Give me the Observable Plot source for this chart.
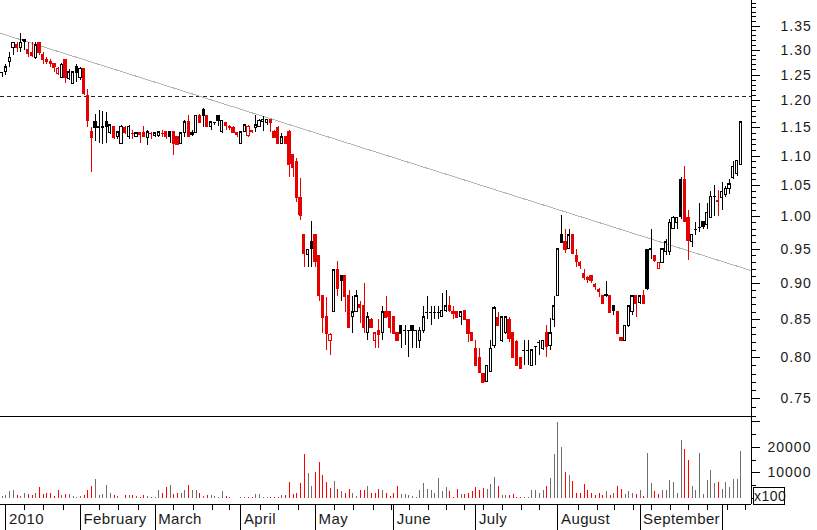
<!DOCTYPE html>
<html>
<head>
<meta charset="utf-8">
<script src="https://cdn.jsdelivr.net/npm/d3@7"></script>
<script src="https://cdn.jsdelivr.net/npm/@observablehq/plot@0.6"></script>
<style>
html, body { margin: 0; padding: 0; background: #fff; }
#chart { position: relative; width: 817px; height: 530px; overflow: hidden; background: #fff; font-family: "Liberation Sans", Arial, sans-serif; }
#chart svg { position: absolute; left: 0; background: transparent !important; shape-rendering: crispEdges; }
#chart svg text { letter-spacing: 1px; fill: #1a1a1a; }
#chart svg g[aria-label="text"].months text { letter-spacing: 0.4px; }
#x100 { position: absolute; left: 753px; top: 487px; width: 30px; height: 16px; border: 1px solid #000; font-size: 14px; line-height: 16px; text-align: center; letter-spacing: 0.5px; color: #1a1a1a; background: #fff; }
</style>
</head>
<body>
<div id="chart"><div id="x100">x100</div></div>
<script>
// ---- Daily OHLC (price), one entry per trading day ----
const opens = [
  1.255,1.255,1.275,1.305,1.31,1.305,1.32,1.30,1.295,1.285,
  1.315,1.29,1.28,1.275,1.272,1.252,1.245,1.28,1.243,1.233,
  1.265,1.245,1.262,1.21,1.142,1.16,1.15,1.15,1.16,1.14,
  1.152,1.133,1.122,1.15,1.133,1.14,1.133,1.14,1.14,1.132,
  1.14,1.135,1.135,1.14,1.142,1.142,1.142,1.133,1.122,1.14,
  1.16,1.138,1.14,1.172,1.183,1.172,1.152,1.16,1.172,1.142,
  1.158,1.152,1.15,1.14,1.122,1.142,1.135,1.145,1.15,1.152,
  1.16,1.158,1.165,1.143,1.15,1.122,1.133,1.142,1.101,1.09,
  1.03,0.971,0.941,0.96,0.971,0.94,0.882,0.853,0.822,0.86,
  0.919,0.911,0.911,0.882,0.853,0.86,0.87,0.868,0.832,0.85,
  0.822,0.835,0.832,0.86,0.86,0.853,0.832,0.842,0.835,0.835,
  0.842,0.835,0.822,0.835,0.86,0.86,0.86,0.86,0.853,0.862,
  0.868,0.86,0.86,0.853,0.862,0.85,0.832,0.812,0.8,0.78,
  0.77,0.782,0.815,0.852,0.822,0.832,0.85,0.832,0.82,0.80,
  0.81,0.81,0.79,0.815,0.82,0.812,0.832,0.815,0.85,0.882,
  0.971,0.96,0.95,0.971,0.94,0.93,0.913,0.907,0.911,0.897,
  0.89,0.882,0.882,0.882,0.868,0.86,0.825,0.822,0.842,0.86,
  0.882,0.872,0.882,0.948,0.948,0.94,0.92,0.93,0.945,0.945,
  0.98,0.99,1.06,1.06,0.998,0.96,0.98,0.983,0.992,0.986,
  0.998,1.032,1.025,1.03,1.034,1.045,1.063,1.07,1.084
];
const highs = [
  1.255,1.27,1.295,1.315,1.315,1.335,1.322,1.315,1.315,1.315,
  1.315,1.295,1.285,1.28,1.273,1.265,1.272,1.28,1.26,1.255,
  1.27,1.265,1.262,1.222,1.151,1.175,1.182,1.18,1.178,1.155,
  1.153,1.142,1.155,1.152,1.155,1.145,1.14,1.142,1.152,1.145,
  1.142,1.142,1.142,1.145,1.142,1.142,1.142,1.133,1.142,1.163,
  1.172,1.145,1.172,1.175,1.185,1.172,1.16,1.16,1.172,1.163,
  1.158,1.155,1.152,1.14,1.142,1.155,1.155,1.145,1.172,1.165,
  1.17,1.165,1.165,1.145,1.152,1.14,1.133,1.145,1.101,1.095,
  1.062,0.971,0.95,0.992,0.971,0.94,0.882,0.88,0.832,0.919,
  0.932,0.911,0.911,0.89,0.882,0.89,0.875,0.9,0.86,0.852,
  0.832,0.85,0.868,0.882,0.86,0.853,0.832,0.842,0.842,0.835,
  0.842,0.835,0.84,0.868,0.882,0.868,0.868,0.868,0.885,0.89,
  0.882,0.868,0.86,0.86,0.862,0.85,0.832,0.822,0.812,0.78,
  0.79,0.822,0.868,0.86,0.853,0.853,0.853,0.832,0.822,0.80,
  0.822,0.822,0.81,0.815,0.822,0.822,0.842,0.852,0.882,0.95,
  1.002,0.98,0.98,0.971,0.95,0.932,0.92,0.91,0.911,0.9,
  0.892,0.882,0.902,0.882,0.868,0.86,0.825,0.842,0.868,0.882,
  0.882,0.882,0.89,0.95,0.98,0.94,0.93,0.95,0.965,0.995,
  1.0,0.998,1.063,1.082,1.01,0.972,0.99,1.02,0.992,1.02,
  1.04,1.05,1.042,1.055,1.048,1.06,1.09,1.092,1.16
];
const lows = [
  1.245,1.25,1.265,1.29,1.295,1.295,1.30,1.285,1.285,1.28,
  1.29,1.27,1.27,1.265,1.255,1.25,1.245,1.233,1.24,1.233,
  1.235,1.24,1.21,1.15,1.072,1.125,1.122,1.12,1.122,1.138,
  1.13,1.13,1.12,1.138,1.13,1.13,1.132,1.122,1.132,1.118,
  1.13,1.133,1.133,1.133,1.13,1.122,1.101,1.118,1.12,1.133,
  1.135,1.135,1.14,1.16,1.15,1.15,1.145,1.155,1.152,1.14,
  1.145,1.145,1.14,1.133,1.122,1.142,1.133,1.14,1.142,1.15,
  1.143,1.155,1.142,1.133,1.122,1.122,1.12,1.063,1.063,1.022,
  0.994,0.923,0.923,0.923,0.923,0.874,0.832,0.81,0.803,0.86,
  0.882,0.874,0.86,0.84,0.832,0.86,0.845,0.832,0.822,0.84,
  0.812,0.812,0.822,0.853,0.832,0.832,0.822,0.812,0.816,0.8,
  0.812,0.812,0.812,0.832,0.85,0.842,0.85,0.85,0.853,0.86,
  0.86,0.85,0.853,0.842,0.85,0.82,0.822,0.79,0.782,0.77,
  0.77,0.782,0.812,0.842,0.82,0.83,0.82,0.80,0.79,0.787,
  0.79,0.79,0.79,0.79,0.803,0.81,0.80,0.81,0.84,0.882,
  0.96,0.944,0.95,0.944,0.923,0.92,0.904,0.9,0.9,0.89,
  0.88,0.87,0.88,0.86,0.855,0.832,0.822,0.822,0.84,0.855,
  0.853,0.87,0.872,0.89,0.935,0.93,0.92,0.93,0.94,0.94,
  0.98,0.98,0.995,0.992,0.933,0.952,0.97,0.975,0.98,0.98,
  0.998,1.0,1.0,1.01,1.03,1.035,1.06,1.065,1.084
];
const closes = [
  1.255,1.265,1.285,1.315,1.305,1.315,1.318,1.293,1.29,1.31,
  1.295,1.28,1.277,1.272,1.265,1.262,1.27,1.245,1.255,1.255,
  1.255,1.262,1.215,1.163,1.133,1.151,1.152,1.152,1.152,1.155,
  1.133,1.142,1.152,1.142,1.152,1.14,1.14,1.138,1.134,1.142,
  1.14,1.14,1.142,1.14,1.135,1.135,1.122,1.12,1.14,1.16,
  1.135,1.14,1.172,1.16,1.172,1.152,1.16,1.16,1.163,1.163,
  1.155,1.15,1.142,1.138,1.142,1.155,1.152,1.143,1.155,1.163,
  1.165,1.165,1.16,1.133,1.122,1.133,1.122,1.086,1.08,1.03,
  1.002,0.944,0.949,0.951,0.931,0.883,0.853,0.832,0.83,0.919,
  0.892,0.904,0.882,0.84,0.86,0.882,0.866,0.84,0.853,0.84,
  0.832,0.83,0.86,0.853,0.84,0.832,0.822,0.832,0.835,0.835,
  0.835,0.835,0.835,0.853,0.86,0.86,0.86,0.86,0.862,0.868,
  0.862,0.858,0.853,0.86,0.85,0.832,0.822,0.79,0.782,0.77,
  0.79,0.812,0.865,0.842,0.853,0.853,0.825,0.80,0.79,0.787,
  0.81,0.81,0.81,0.815,0.82,0.822,0.815,0.832,0.868,0.95,
  0.96,0.95,0.971,0.944,0.931,0.925,0.908,0.906,0.904,0.895,
  0.888,0.872,0.884,0.86,0.862,0.832,0.822,0.842,0.868,0.882,
  0.872,0.882,0.872,0.893,0.95,0.933,0.93,0.95,0.96,0.99,
  0.998,0.998,1.0,0.992,0.963,0.972,0.98,0.983,0.984,1.006,
  1.032,1.032,1.024,1.04,1.045,1.052,1.082,1.092,1.16
];
// ---- Daily volume (units of 100 shares) ----
const volumes = [
  700,1300,2700,3100,1300,700,2000,1600,1300,2000,
  4300,1600,2000,2000,700,3100,1300,1600,1600,700,
  400,700,1300,3100,4700,7600,1300,1600,5100,2000,
  1100,700,0,1100,1100,1100,900,400,1100,700,
  400,400,3100,2000,4300,5100,1600,2000,2000,3300,
  5100,3100,3100,2000,900,1100,1100,900,400,2700,
  900,400,0,0,400,400,400,400,1600,1600,
  400,400,400,400,400,1100,1100,6300,1600,2000,
  6000,17000,9600,4700,10000,14000,9100,6400,4000,6700,
  3600,2700,2000,3500,2000,700,3100,3100,4700,2000,
  2000,3500,3100,2000,700,2000,4700,1600,1600,1300,
  700,400,3100,6000,3700,3100,2000,8000,2900,4300,
  2700,400,3600,1600,1600,2000,2700,4300,3100,4000,
  3600,5600,8300,4700,1300,1300,1300,1600,400,400,
  400,400,3300,3300,2000,3300,4700,8000,17000,29600,
  20000,10000,9100,6700,2000,2000,5600,3300,2000,1300,
  2000,1300,2900,1300,2000,4700,3600,1600,2700,2000,
  1600,3100,700,17600,6000,2700,1600,3100,3100,7100,
  6400,2000,22700,19100,14700,4700,3100,17600,1600,7100,
  11100,6000,6400,3600,6300,4300,7600,7300,18400
];

// ---- Axis / annotation values ----
const priceTicks = [0.75,0.80,0.85,0.90,0.95,1.00,1.05,1.10,1.15,1.20,1.25,1.30,1.35];
const minorPriceTicks = d3.range(73, 141).map(d => d / 100);
const volumeTicks = [10000, 20000, 30000];
const volumeLabels = [10000, 20000];
const minorVolumeTicks = [0, 5000, 15000, 25000];
const monthLabels = ["2010","February","March","April","May","June","July","August","September"];
const monthStarts = [1, 21, 41, 64, 84, 105, 127, 149, 171, 193]; // trading-day index of each month's first session
const weekStarts = [6,11.2,16.4,26.2,31.3,36.5,46,51.2,56.3,61,69.3,74.2,79.4,89.2,94.3,99.5,104.4,109.3,114.4,119,124,129,134,139.1,144.1,154.6,159.5,164.2,169.3,174,179.2,184.1,189.2,194.4,199.3];
const resistanceLevel = 1.208;
const trendDays = [-0.46, 200.88];
const trendPrices = [1.335, 0.918];

// ---- Build tables ----
const candles = opens.map((open, i) => ({
  day: i, open, high: highs[i], low: lows[i], close: closes[i], volume: volumes[i],
  down: i > 0 && closes[i] < closes[i - 1],
  hollow: closes[i] >= open
}));
const trendline = trendDays.map((day, i) => ({day, price: trendPrices[i]}));

const RED = "#e60000", VRED = "#ff0000", VGRAY = "#6e6e6e", INK = "#000";
const xDomain = [-0.456, 200.88];
const col = d => d.down ? RED : INK;
const font = {fontFamily: "'Liberation Sans', Arial, sans-serif", fontSize: "14px", background: "transparent", overflow: "visible"};

const price = Plot.plot({
  width: 817, height: 417,
  marginTop: 0, marginBottom: 0, marginLeft: 0, marginRight: 66,
  x: {domain: xDomain, axis: null, label: null},
  y: {type: "log", domain: [0.72833, 1.4059], label: null},
  style: font,
  marks: [
    Plot.ruleY([resistanceLevel], {stroke: "#222", strokeDasharray: "4,3"}),
    Plot.line(trendline, {x: "day", y: "price", stroke: "#b4b4b4", strokeWidth: 1}),
    Plot.ruleX(candles, {x: "day", y1: "low", y2: "high", stroke: col}),
    Plot.rect(candles, {
      x1: d => d.day - 0.3, x2: d => d.day + 0.3, y1: "open", y2: "close",
      fill: d => d.hollow ? "#ffffff" : col(d), stroke: col, strokeWidth: 1
    }),
    Plot.ruleY(candles, {y: "close", x1: d => d.day - 0.42, x2: d => d.day + 0.42, stroke: col}),
    Plot.ruleX([xDomain[1]], {stroke: INK}),
    Plot.axisY(minorPriceTicks, {anchor: "right", tickSize: 4, tickFormat: () => "", label: null}),
    Plot.axisY(priceTicks, {anchor: "right", tickSize: 8, tickFormat: () => "", label: null}),
    Plot.text(priceTicks, {
      y: d => d, text: d => d.toFixed(2), frameAnchor: "right",
      dx: 29, textAnchor: "start", fontSize: 14
    })
  ]
});
price.style.top = "0px";

const volume = Plot.plot({
  width: 817, height: 114,
  marginTop: 0, marginBottom: 26, marginLeft: 0, marginRight: 66,
  x: {domain: xDomain, label: null},
  y: {domain: [-2344, 32031], label: null},
  style: font,
  marks: [
    Plot.ruleX(candles, {x: "day", y1: 0, y2: "volume", stroke: d => d.down ? VRED : VGRAY}),
    Plot.ruleY([32031], {stroke: INK}),
    Plot.ruleY([-2344], {stroke: INK}),
    Plot.ruleX([xDomain[1]], {stroke: INK}),
    Plot.axisY(minorVolumeTicks, {anchor: "right", tickSize: 4, tickFormat: () => "", label: null}),
    Plot.axisY(volumeTicks, {anchor: "right", tickSize: 8, tickPadding: 8, tickFormat: d => volumeLabels.includes(d) ? String(d) : "", fontSize: 14, label: null}),
    Plot.axisX(weekStarts, {tickSize: 6, tickFormat: () => "", label: null}),
    Plot.axisX(monthStarts, {tickSize: 26, tickFormat: () => "", label: null}),
    Plot.text(monthStarts.slice(0, monthLabels.length), {
      x: d => d, text: (d, i) => monthLabels[i],
      frameAnchor: "bottom", dy: 19, dx: 3, textAnchor: "start", fontSize: 15, className: "months"
    })
  ]
});
volume.style.top = "416px";

const chart = document.getElementById("chart");
chart.insertBefore(volume, chart.firstChild);
chart.insertBefore(price, chart.firstChild);
</script>
</body>
</html>
